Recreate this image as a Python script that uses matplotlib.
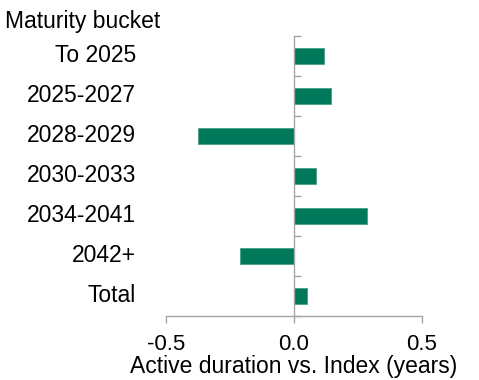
import matplotlib
matplotlib.use("Agg")
import matplotlib.pyplot as plt
import numpy as np

buckets = ["To 2025", "2025-2027", "2028-2029", "2030-2033", "2034-2041", "2042+", "Total"]
active_dur = [0.119, 0.144, -0.374, 0.085, 0.284, -0.209, 0.052]

plt.rcParams["font.family"] = ["Liberation Sans", "DejaVu Sans"]
plt.rcParams["axes.unicode_minus"] = False

green = "#00785A"
grey = "#A6A6A6"
fs = 16.5

fig = plt.figure(figsize=(4.79, 3.80), dpi=100)
ax = fig.add_axes([165.7 / 479, 1 - 316 / 380, (422 - 165.7) / 479, 280 / 380])

y = np.arange(len(buckets))
ax.barh(y, active_dur, height=0.4, color=green, edgecolor="#3A9A7E", linewidth=0.5)

ax.set_xlim(-0.5, 0.5)
ax.set_ylim(len(buckets) - 0.5, -0.5)

for s in ["top", "right"]:
    ax.spines[s].set_visible(False)
ax.spines["left"].set_position(("data", 0))
for s in ["left", "bottom"]:
    ax.spines[s].set_color(grey)
    ax.spines[s].set_linewidth(1.0)

ax.set_yticks([])
ax.set_yticks(np.arange(len(buckets) + 1) - 0.5, minor=True)
ax.tick_params(axis="y", which="minor", direction="in", length=5, width=1.0,
               color=grey, labelleft=False)

ax.set_xticks([-0.5, 0.0, 0.5])
ax.set_xticklabels(["-0.5", "0.0", "0.5"])
ax.tick_params(axis="x", direction="out", length=5, width=1.0, color=grey,
               labelsize=16, pad=8)
ax.set_xlabel("Active duration vs. Index (years)", fontsize=fs, labelpad=0)

for i, name in enumerate(buckets):
    ax.text(-0.116, i, name, transform=ax.get_yaxis_transform(), ha="right",
            va="center", fontsize=fs)

fig.text(5 / 479, 1 - 27.7 / 380, "Maturity bucket", fontsize=fs, va="baseline")

fig.savefig("out.png", dpi=100)
